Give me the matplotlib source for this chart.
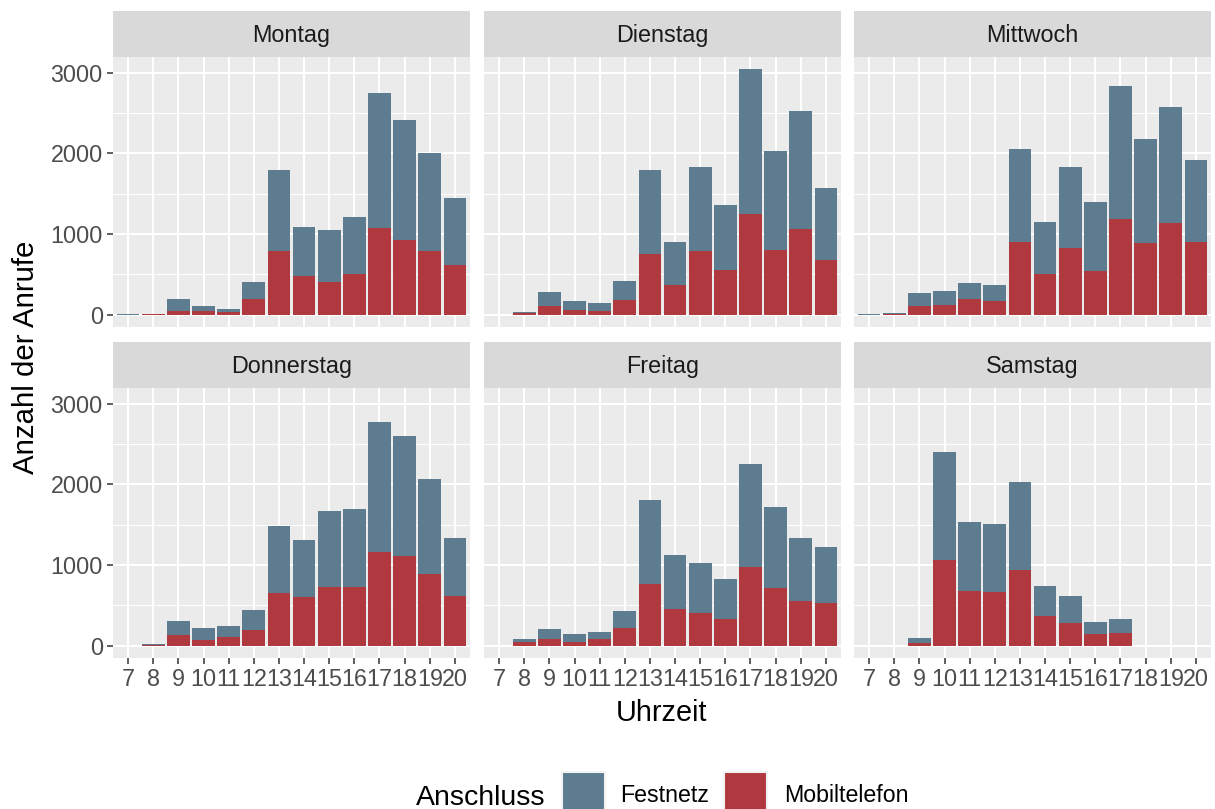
import matplotlib
matplotlib.use("Agg")
import matplotlib.pyplot as plt
from matplotlib.patches import Rectangle
import numpy as np

plt.rcParams['font.family'] = ['Liberation Sans', 'DejaVu Sans']

hours = [7, 8, 9, 10, 11, 12, 13, 14, 15, 16, 17, 18, 19, 20]
days = ["Montag", "Dienstag", "Mittwoch", "Donnerstag", "Freitag", "Samstag"]

mobil_montag = [2, 8, 40, 40, 30, 195, 795, 475, 400, 510, 1080, 930, 795, 610]
fest_montag = [6, 2, 160, 62, 36, 205, 1000, 615, 655, 705, 1665, 1480, 1210, 840]

mobil_dienstag = [0, 20, 103, 53, 41, 177, 757, 374, 794, 560, 1251, 807, 1066, 683]
fest_dienstag = [0, 10, 173, 112, 99, 235, 1037, 531, 1037, 802, 1790, 1222, 1457, 889]

mobil_mittwoch = [0, 8, 103, 115, 189, 165, 905, 510, 831, 547, 1189, 893, 1140, 905]
fest_mittwoch = [8, 12, 160, 173, 198, 209, 1148, 642, 1000, 852, 1642, 1284, 1432, 1013]

mobil_donnerstag = [0, 8, 132, 70, 107, 194, 651, 602, 725, 725, 1158, 1108, 886, 614]
fest_donnerstag = [0, 13, 173, 148, 136, 247, 828, 704, 940, 964, 1619, 1496, 1174, 717]

mobil_freitag = [0, 45, 82, 45, 82, 218, 762, 453, 404, 330, 972, 713, 552, 527]
fest_freitag = [0, 37, 124, 99, 87, 210, 1038, 668, 618, 494, 1274, 1001, 779, 693]

mobil_samstag = [0, 0, 37, 1059, 676, 663, 935, 367, 280, 144, 157, 0, 0, 0]
fest_samstag = [0, 0, 58, 1347, 853, 841, 1088, 371, 334, 153, 177, 0, 0, 0]

mobil = [mobil_montag, mobil_dienstag, mobil_mittwoch, mobil_donnerstag, mobil_freitag, mobil_samstag]
fest = [fest_montag, fest_dienstag, fest_mittwoch, fest_donnerstag, fest_freitag, fest_samstag]

yticks = [0, 1000, 2000, 3000]
yminor = [500, 1500, 2500]

C_FEST = "#5E7C8F"
C_MOB = "#B0393F"
C_PANEL = "#EBEBEB"
C_STRIP = "#D9D9D9"
C_TICKTXT = "#4D4D4D"

FS_TICK = 16.8
FS_TITLE = 21.2

W, H = 1215, 809
fig = plt.figure(figsize=(W / 100, H / 100), dpi=100)

def rect(x0, y0, x1, y1):
    return [x0 / W, 1 - y1 / H, (x1 - x0) / W, (y1 - y0) / H]

cols = [(113, 470), (484, 841), (854, 1211)]
rows = [(11, 57, 327), (342, 388, 658)]

totals_max = max((np.array(m) + np.array(f)).max() for m, f in zip(mobil, fest))
ymax = totals_max * 1.05
ymin = -totals_max * 0.05

x = np.arange(len(hours))
for i, day in enumerate(days):
    r, c = divmod(i, 3)
    x0, x1 = cols[c]
    st, sb, pb = rows[r]
    ax = fig.add_axes(rect(x0, sb, x1, pb))
    ax.set_facecolor(C_PANEL)
    for s in ax.spines.values():
        s.set_visible(False)
    ax.set_xlim(-0.6, len(hours) - 0.4)
    ax.set_ylim(ymin, ymax)
    for yv in yminor:
        ax.axhline(yv, color="white", lw=0.75, zorder=0.5)
    for yv in yticks:
        ax.axhline(yv, color="white", lw=1.5, zorder=0.6)
    for xv in x:
        ax.axvline(xv, color="white", lw=1.5, zorder=0.6)
    m = np.array(mobil[i])
    f = np.array(fest[i])
    ax.bar(x, m, width=0.9, color=C_MOB, zorder=2, linewidth=0)
    ax.bar(x, f, width=0.9, bottom=m, color=C_FEST, zorder=2, linewidth=0)
    ax.set_xticks(x)
    ax.set_yticks(yticks)
    ax.tick_params(axis="both", length=4.3, width=1.1, color="#333333",
                   labelcolor=C_TICKTXT, labelsize=FS_TICK, pad=3)
    if r == 1:
        ax.set_xticklabels([str(h) for h in hours])
    else:
        ax.tick_params(axis="x", length=0, labelbottom=False)
    if c == 0:
        ax.set_yticklabels([str(v) for v in yticks])
    else:
        ax.tick_params(axis="y", length=0, labelleft=False)
    # strip
    sa = fig.add_axes(rect(x0, st, x1, sb))
    sa.set_facecolor(C_STRIP)
    sa.set_xticks([]); sa.set_yticks([])
    for s in sa.spines.values():
        s.set_visible(False)
    sa.text(0.5, 0.47, day, ha="center", va="center", fontsize=FS_TICK,
            color="#1A1A1A", transform=sa.transAxes)

fig.text(662 / W, 1 - 713 / H, "Uhrzeit", ha="center", va="center", fontsize=20.8, color="black")
fig.text(26 / W, 1 - 357 / H, "Anzahl der Anrufe", ha="center", va="center",
         rotation=90, fontsize=FS_TITLE, color="black")

# legend
fig.text(416 / W, 1 - 805 / H, "Anschluss", ha="left", va="baseline", fontsize=20.5, color="black")
keys = [(562, C_FEST, "Festnetz", 620), (724, C_MOB, "Mobiltelefon", 784)]
for kx, col, lab, tx in keys:
    fig.patches.append(Rectangle((kx / W, 1 - 815 / H), 43 / W, 43 / H, transform=fig.transFigure,
                                 facecolor=col, edgecolor="#F2F2F2", linewidth=1.5))
    fig.text(tx / W, 1 - 802 / H, lab, ha="left", va="baseline", fontsize=16.7, color="black")

fig.savefig("out.png", dpi=100, facecolor="white")
